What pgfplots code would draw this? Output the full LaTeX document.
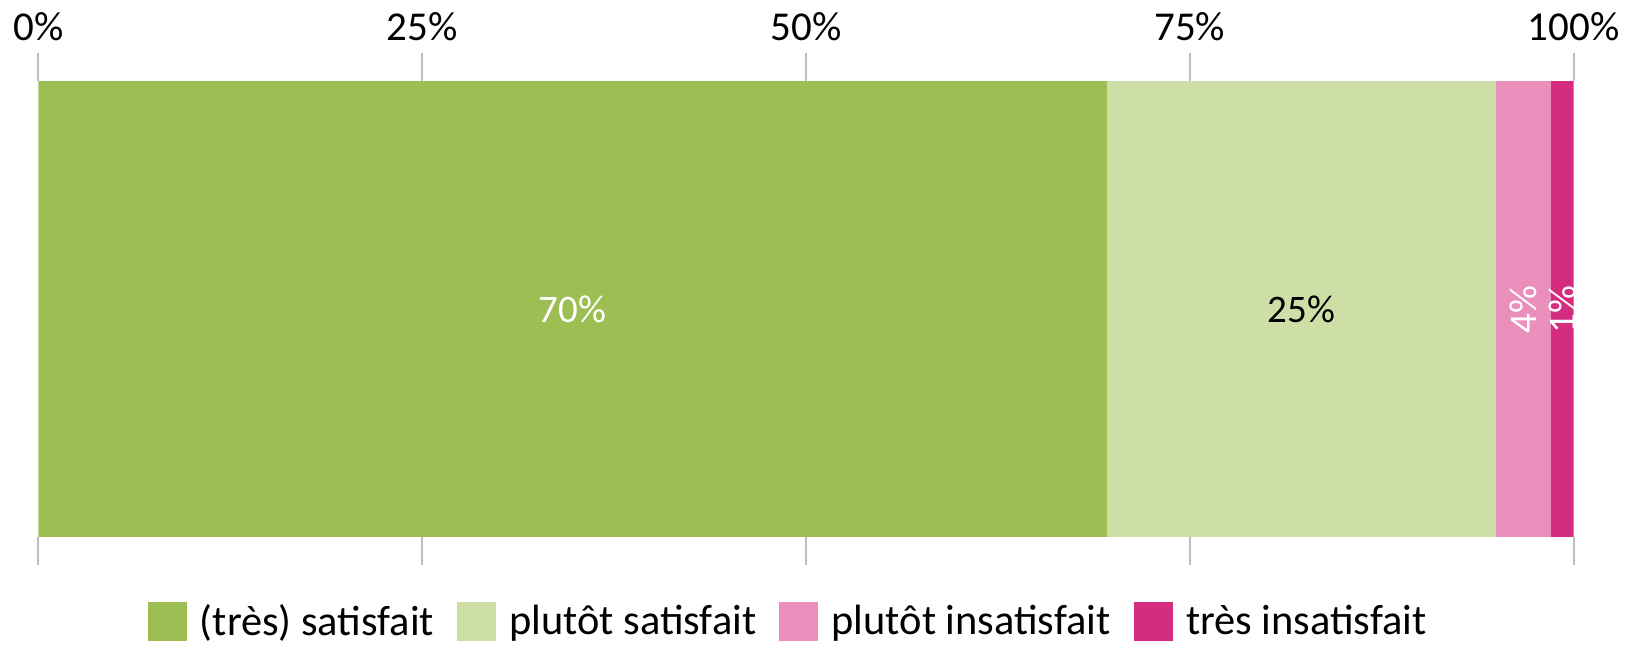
\documentclass[border=0pt]{standalone}
\usepackage{pgfplots}
\pgfplotsset{compat=1.18}
\usepackage{fontspec}
\setmainfont{Carlito}
\definecolor{cA}{HTML}{9DBE53}
\definecolor{cB}{HTML}{CDDEA7}
\definecolor{cC}{HTML}{EA8FBC}
\definecolor{cD}{HTML}{D42C7E}
\definecolor{tickgray}{HTML}{BFBFBF}
\begin{document}
\begin{tikzpicture}
\useasboundingbox (-19.15pt,-54.5pt) rectangle (800.35pt,268.5pt);
\begin{axis}[
  at={(0,0)}, anchor=south west,
  scale only axis, width=767.7pt, height=227.75pt,
  xbar stacked, bar width=1,
  xmin=0, xmax=100, ymin=-0.5, ymax=0.5,
  enlargelimits=false,
  ytick=\empty,
  xtick={0,25,50,75,100},
  xticklabel={\pgfmathprintnumber{\tick}\%},
  xticklabel pos=upper, xtick pos=both,
  tick align=outside, major tick length=14pt,
  tick style={draw=tickgray, line width=1pt},
  axis line style={draw=none},
  /pgf/number format/assume math mode=true,
  ticklabel style={font=\fontsize{20.5}{24}\selectfont},
  xticklabel style={yshift=2.6pt},
  point meta=explicit symbolic,
  nodes near coords,
  every node near coord/.append style={anchor=center, font=\fontsize{19.5}{23}\selectfont},
  legend columns=4,
  legend style={at={(0.4889,-0.186)}, anchor=center, draw=none, fill=none,
    font=\fontsize{21.2}{25}\selectfont,
    /tikz/every odd column/.append style={column sep=4.7pt},
    /tikz/every even column/.append style={column sep=9.5pt}},
  legend image code/.code={\fill[#1] (0pt,-9.75pt) rectangle (19.5pt,9.75pt);},
]
\addplot[fill=cA, draw=none, every node near coord/.append style={text=white}] coordinates {(69.6,0) [70\%]};
\addlegendentry{(très) satisfait}
\addplot[fill=cB, draw=none, every node near coord/.append style={text=black}] coordinates {(25.35,0) [25\%]};
\addlegendentry{plutôt satisfait}
\addplot[fill=cC, draw=none, every node near coord/.append style={text=white, rotate=90}] coordinates {(3.6,0) [4\%]};
\addlegendentry{plutôt insatisfait}
\addplot[fill=cD, draw=none, every node near coord/.append style={text=white, rotate=90}] coordinates {(1.45,0) [1\%]};
\addlegendentry{très insatisfait}
\end{axis}
\end{tikzpicture}
\end{document}
